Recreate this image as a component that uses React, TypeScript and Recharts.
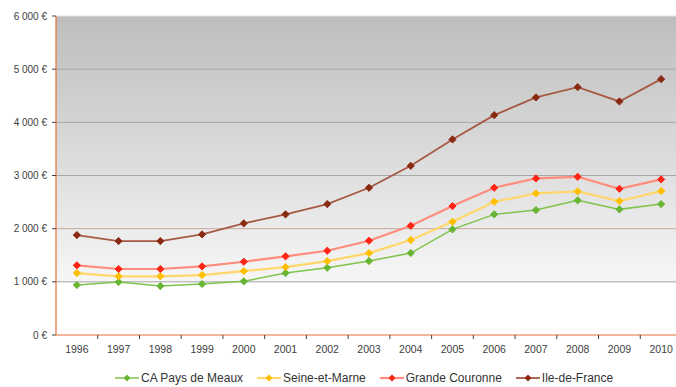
import { LineChart, Line, XAxis, YAxis, CartesianGrid, ReferenceLine, Legend } from 'recharts';

const years = ['1996', '1997', '1998', '1999', '2000', '2001', '2002', '2003', '2004', '2005', '2006', '2007', '2008', '2009', '2010'];

const paysDeMeaux = [940, 996, 921, 959, 1009, 1165, 1265, 1391, 1541, 1987, 2269, 2350, 2532, 2363, 2462];
const seineEtMarne = [1165, 1103, 1103, 1128, 1203, 1278, 1391, 1541, 1786, 2130, 2506, 2663, 2701, 2519, 2707];
const grandeCouronne = [1310, 1241, 1241, 1291, 1378, 1479, 1585, 1773, 2055, 2425, 2769, 2945, 2976, 2750, 2927];
const ileDeFrance = [1880, 1767, 1767, 1893, 2100, 2269, 2462, 2769, 3182, 3678, 4135, 4468, 4662, 4393, 4812];

const yTicks = [0, 1000, 2000, 3000, 4000, 5000, 6000];
const gridValues = [1000, 2000, 3000, 4000, 5000];

const data = years.map((year, i) => ({
  year,
  meaux: paysDeMeaux[i],
  seine: seineEtMarne[i],
  couronne: grandeCouronne[i],
  idf: ileDeFrance[i],
}));

const series = [
  { key: 'meaux', name: 'CA Pays de Meaux', line: '#7ec44a', dot: '#68b534', width: 1.5 },
  { key: 'seine', name: 'Seine-et-Marne', line: '#ffd76a', dot: '#ffbf00', width: 2.2 },
  { key: 'couronne', name: 'Grande Couronne', line: '#ff8c7c', dot: '#ff2414', width: 2.2 },
  { key: 'idf', name: 'Ile-de-France', line: '#a65a44', dot: '#8a2a12', width: 1.8 },
];

const FONT = 'Arial, "Liberation Sans", sans-serif';
const CHART_W = 690;
const Y_AXIS_W = 56;
const RIGHT = 8;
const BAND = (CHART_W - Y_AXIS_W - RIGHT) / years.length;

const euro = (v: number) => `${String(v).replace(/\B(?=(\d{3})+(?!\d))/g, ' ')} €`;

const Diamond = (color: string) => (props: any) => {
  const { cx, cy, index } = props;
  if (cx == null || cy == null) return <g key={index} />;
  const r = 3.6;
  return (
    <polygon
      key={index}
      points={`${cx},${cy - r} ${cx + r},${cy} ${cx},${cy + r} ${cx - r},${cy}`}
      fill={color}
      stroke={color}
      strokeWidth={1}
    />
  );
};

// year label centred in its band, with the tick mark on the band's right edge
const YearTick = (props: any) => {
  const { x, y, payload, index } = props;
  const axisY = y - 11;
  return (
    <g>
      {index < years.length - 1 && (
        <line x1={x + BAND / 2} x2={x + BAND / 2} y1={axisY} y2={axisY + 4} stroke="#404040" />
      )}
      <text x={x} y={y} dy="0.71em" textAnchor="middle" fontSize={10.5} fill="#404040" fontFamily={FONT}>
        {payload.value}
      </text>
    </g>
  );
};

const LegendContent = () => (
  <div
    style={{
      display: 'flex',
      alignItems: 'center',
      height: 18,
      paddingLeft: 115,
      gap: 14,
      fontFamily: FONT,
      fontSize: 12,
      color: '#333',
      whiteSpace: 'nowrap',
    }}
  >
    {series.map((s) => (
      <div key={s.key} style={{ display: 'flex', alignItems: 'center', gap: 2 }}>
        <svg width={24} height={10}>
          <line x1={0} x2={24} y1={5} y2={5} stroke={s.line} strokeWidth={s.width} />
          <polygon points="12,1.5 15.5,5 12,8.5 8.5,5" fill={s.dot} />
        </svg>
        <span>{s.name}</span>
      </div>
    ))}
  </div>
);

export default function App() {
  return (
    <div style={{ position: 'absolute', left: 0, top: 0, width: 676, height: 387, overflow: 'hidden', background: '#fff' }}>
      <LineChart width={CHART_W} height={387} data={data} margin={{ top: 16, right: RIGHT, left: 0, bottom: 0 }}>
        <defs>
          <linearGradient id="plotBg" x1="0" y1="0" x2="0" y2="1">
            <stop offset="0" stopColor="#bdbdbd" />
            <stop offset="0.83" stopColor="#f6f6f6" />
            <stop offset="0.84" stopColor="#ffffff" />
            <stop offset="1" stopColor="#ffffff" />
          </linearGradient>
        </defs>
        <CartesianGrid horizontal={false} vertical={false} fill="url(#plotBg)" />
        {gridValues.map((v) => (
          <ReferenceLine key={v} y={v} stroke={v === 2000 ? '#c8a89c' : '#a6a6a6'} strokeWidth={1} />
        ))}
        <ReferenceLine y={6000} stroke="#f0ddd4" strokeWidth={1} />
        <XAxis
          dataKey="year"
          height={34}
          interval={0}
          padding={{ left: BAND / 2, right: BAND / 2 }}
          tickSize={4}
          tickMargin={7}
          tickLine={false}
          tick={<YearTick />}
          axisLine={{ stroke: '#e8703c', strokeWidth: 1.2 }}
        />
        <YAxis
          width={Y_AXIS_W}
          domain={[0, 6000]}
          ticks={yTicks}
          tickFormatter={euro}
          tickSize={4}
          tickMargin={5}
          tickLine={{ stroke: '#404040' }}
          axisLine={{ stroke: '#e8703c', strokeWidth: 1.2 }}
          tick={{ fontSize: 10, fill: '#404040', fontFamily: FONT }}
        />
        <Legend verticalAlign="bottom" content={<LegendContent />} wrapperStyle={{ left: 0, width: CHART_W }} />
        {series.map((s) => (
          <Line
            key={s.key}
            type="linear"
            dataKey={s.key}
            name={s.name}
            stroke={s.line}
            strokeWidth={s.width}
            dot={Diamond(s.dot)}
            activeDot={false}
            isAnimationActive={false}
          />
        ))}
      </LineChart>
    </div>
  );
}
